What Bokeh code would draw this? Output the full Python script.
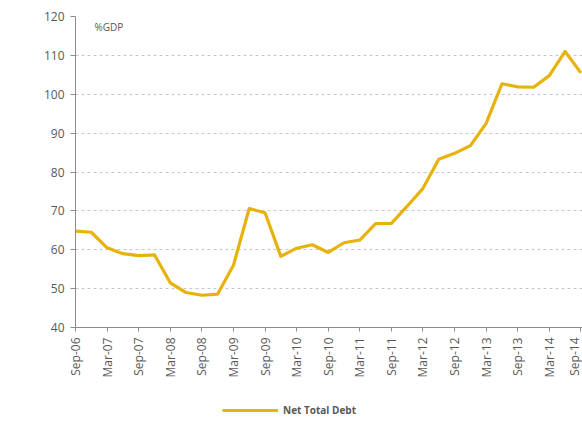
from bokeh.plotting import figure
from bokeh.models import Range1d, FixedTicker, Legend, LegendItem, Label
from bokeh.layouts import column
from bokeh.embed import file_html
from bokeh.resources import INLINE
import math

quarters = ["Sep-06", "Dec-06", "Mar-07", "Jun-07", "Sep-07", "Dec-07", "Mar-08", "Jun-08",
            "Sep-08", "Dec-08", "Mar-09", "Jun-09", "Sep-09", "Dec-09", "Mar-10", "Jun-10",
            "Sep-10", "Dec-10", "Mar-11", "Jun-11", "Sep-11", "Dec-11", "Mar-12", "Jun-12",
            "Sep-12", "Dec-12", "Mar-13", "Jun-13", "Sep-13", "Dec-13", "Mar-14", "Jun-14",
            "Sep-14"]
net_total_debt = [64.8, 64.5, 60.5, 59.0, 58.5, 58.7, 51.5, 49.0,
                  48.3, 48.6, 56.0, 70.6, 69.5, 58.3, 60.4, 61.3,
                  59.3, 61.8, 62.5, 66.7, 66.8, 71.2, 75.8, 83.3,
                  84.8, 86.8, 92.5, 102.7, 101.9, 101.8, 104.8, 111.0,
                  105.5]
y_ticks = [40, 50, 60, 70, 80, 90, 100, 110, 120]
series_name = "Net Total Debt"
unit_label = "%GDP"

FONT = "Open Sans"
GRAY = "#595959"
LINE_COLOR = "#E8B20C"

xs = list(range(len(quarters)))

p = figure(width=582, height=395, output_backend="svg", toolbar_location=None,
           x_range=Range1d(0, 32.1), y_range=Range1d(40, 120),
           min_border_left=75, min_border_right=0, min_border_top=16, min_border_bottom=68)
p.outline_line_color = None
p.background_fill_color = "white"
p.border_fill_color = "white"

r = p.line(xs, net_total_debt, line_color=LINE_COLOR, line_width=3.2, line_join="round")

# axes
p.yaxis.ticker = FixedTicker(ticks=y_ticks)
p.yaxis.minor_tick_line_color = None
p.yaxis.major_tick_out = 5
p.yaxis.major_tick_in = 0
p.yaxis.axis_line_color = "#8C8C8C"
p.yaxis.major_tick_line_color = "#8C8C8C"
p.yaxis.major_label_text_font = FONT
p.yaxis.major_label_text_font_size = "12px"
p.yaxis.major_label_text_color = GRAY
p.yaxis.major_label_standoff = 6

p.xaxis.ticker = FixedTicker(ticks=xs[::2])
p.xaxis.major_label_overrides = {i: quarters[i] for i in xs[::2]}
p.xaxis.minor_tick_line_color = None
p.xaxis.major_tick_out = 4
p.xaxis.major_tick_in = 0
p.xaxis.axis_line_color = "#8C8C8C"
p.xaxis.major_tick_line_color = "#8C8C8C"
p.xaxis.major_label_orientation = math.pi / 2
p.xaxis.major_label_text_font = FONT
p.xaxis.major_label_text_font_size = "12px"
p.xaxis.major_label_text_color = GRAY
p.xaxis.major_label_standoff = 6

p.xgrid.grid_line_color = None
p.ygrid.grid_line_color = "#C8C8C8"
p.ygrid.grid_line_dash = "3 3"
p.ygrid.grid_line_width = 1

p.add_layout(Label(x=1.2, y=117.2, text=unit_label, text_font=FONT, text_font_size="10px",
                   text_color=GRAY, text_baseline="middle"))

# legend strip below the chart
p2 = figure(width=582, height=26, output_backend="svg", toolbar_location=None,
            x_range=p.x_range, y_range=p.y_range,
            x_axis_location=None, y_axis_location=None,
            min_border_left=0, min_border_right=0, min_border_top=0, min_border_bottom=0)
p2.outline_line_color = None
p2.xgrid.grid_line_color = None
p2.ygrid.grid_line_color = None
r2 = p2.line(xs, net_total_debt, line_color=LINE_COLOR, line_width=3.2, visible=False)

legend = Legend(items=[LegendItem(label=series_name, renderers=[r2])],
                orientation="horizontal", location=(147, 4),
                border_line_color=None, background_fill_alpha=0,
                inactive_fill_alpha=0,
                label_text_font=FONT, label_text_font_size="10px",
                label_text_font_style="bold", label_text_color=GRAY,
                glyph_width=56, glyph_height=12, padding=4, margin=0)
p2.add_layout(legend, "center")

layout = column(p, p2, spacing=0)
open("out.html", "w").write(file_html(layout, INLINE))
